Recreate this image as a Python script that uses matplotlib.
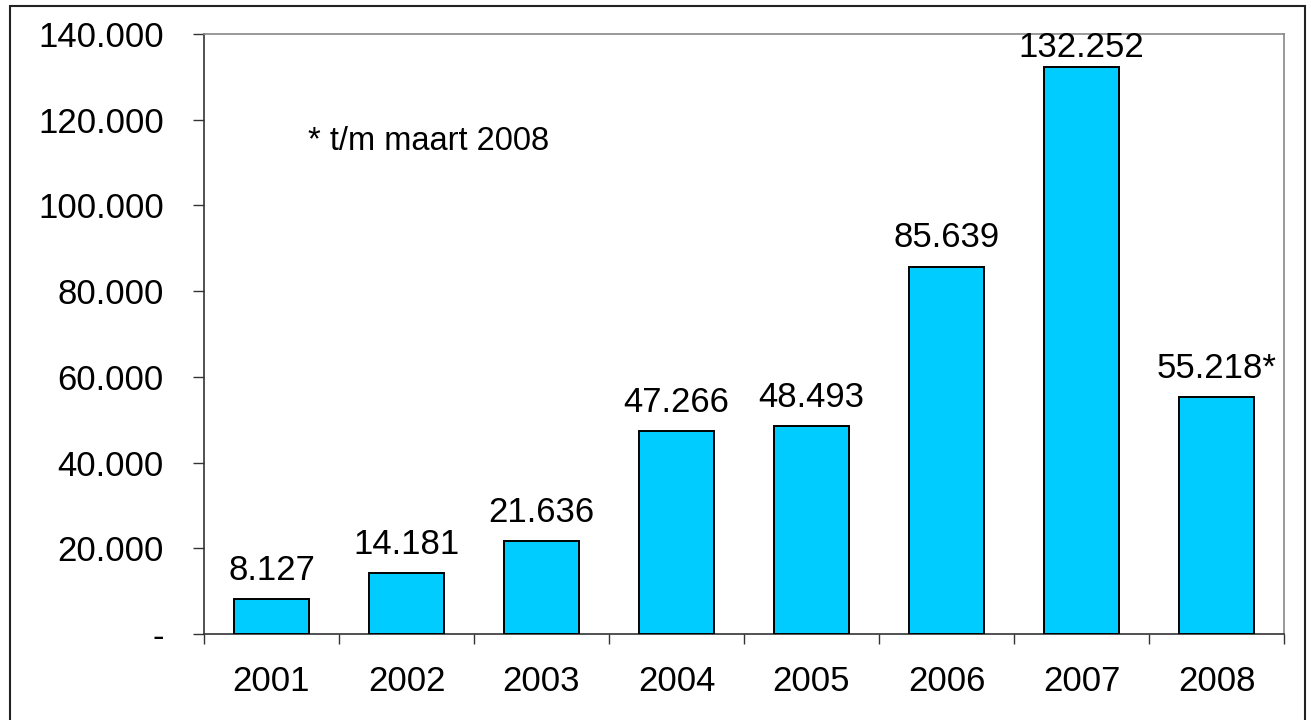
import matplotlib
matplotlib.use('Agg')
import matplotlib.pyplot as plt
import matplotlib.patches as mpatches
from matplotlib.ticker import FuncFormatter, FixedLocator

# Data
years = ['2001', '2002', '2003', '2004', '2005', '2006', '2007', '2008']
values = [8127, 14181, 21636, 47266, 48493, 85639, 132252, 55218]
value_labels = ['8.127', '14.181', '21.636', '47.266', '48.493',
                '85.639', '132.252', '55.218*']
y_ticks = [0, 20000, 40000, 60000, 80000, 100000, 120000, 140000]
note_text = '* t/m maart 2008'

BAR_COLOR = '#00CCFF'
FONT = ['Liberation Sans', 'DejaVu Sans']
W, H = 1311, 720

plt.rcParams['font.family'] = FONT

fig = plt.figure(figsize=(W / 100, H / 100), dpi=100)
fig.patch.set_facecolor('white')

# outer frame around the whole chart
frame = mpatches.Rectangle((10 / W, -0.05), (1305 - 10) / W, 1.05 - 6 / H,
                           transform=fig.transFigure, fill=False,
                           edgecolor='#222222', linewidth=1.5)
fig.patches.append(frame)

ax = fig.add_axes([204 / W, (H - 634) / H, 1080 / W, 600 / H])

x = list(range(len(years)))
ax.bar(x, values, width=0.55, color=BAR_COLOR, edgecolor='black',
       linewidth=1.4, zorder=3)

ax.set_xlim(-0.5, len(years) - 0.5)
ax.set_ylim(0, 140000)

# value labels above bars
ymax = ax.get_ylim()[1]
for xi, v, lab in zip(x, values, value_labels):
    off = 9
    if v > ymax * 0.9:
        off = 2
    ax.annotate(lab, (xi, v), xytext=(0, off), textcoords='offset points',
                ha='center', va='bottom', fontsize=25, color='black')

ax.text(0.096, 0.82, note_text, transform=ax.transAxes, ha='left',
        va='center', fontsize=23.5, color='black')

# y axis
ax.set_yticks(y_ticks)
ax.yaxis.set_major_formatter(FuncFormatter(
    lambda v, p: '-' if v == 0 else f'{v:,.0f}'.replace(',', '.')))
ax.tick_params(axis='y', direction='out', length=8, width=1,
               pad=21, labelsize=25, color='#333333')

# x axis: labels centred, ticks at category boundaries
ax.set_xticks(x)
ax.set_xticklabels(years)
ax.xaxis.set_minor_locator(FixedLocator([i - 0.5 for i in range(len(years) + 1)]))
ax.tick_params(axis='x', which='major', length=0, pad=22, labelsize=25)
ax.tick_params(axis='x', which='minor', direction='out', length=7.5,
               width=1, color='#333333')

ax.spines['left'].set_color('#333333')
ax.spines['bottom'].set_color('#333333')
ax.spines['top'].set_color('#888888')
ax.spines['right'].set_color('#888888')
for s in ax.spines.values():
    s.set_linewidth(1.2)

fig.savefig('out.png', dpi=100, facecolor='white')
